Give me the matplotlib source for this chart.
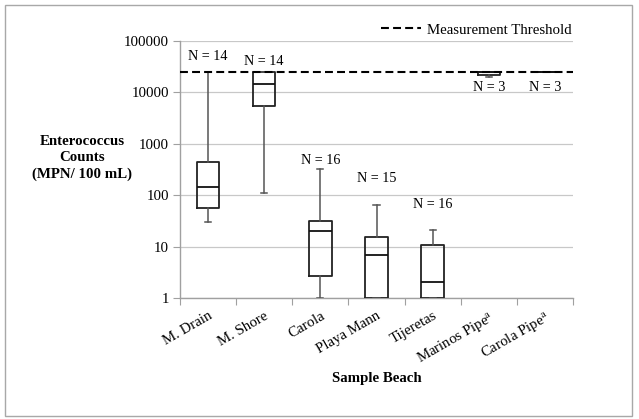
import matplotlib
matplotlib.use("Agg")
import matplotlib.pyplot as plt
from matplotlib.patches import Rectangle
from matplotlib.lines import Line2D
from matplotlib.ticker import FixedLocator, FuncFormatter

plt.rcParams['font.family'] = ['Liberation Serif', 'DejaVu Serif']
plt.rcParams['mathtext.fontset'] = 'stix'

# ---- data ----
categories = ["M. Drain", "M. Shore", "Carola", "Playa Mann", "Tijeretas",
              "Marinos Pipe$^{\\mathrm{a}}$", "Carola Pipe$^{\\mathrm{a}}$"]
whisker_low = [30, 109, 1, 1, 1, 20100, 24196]
q1_vals = [57, 5420, 2.75, 1, 1, 21700, 24196]
medians = [143, 14300, 20.5, 6.8, 2.05, 24196, 24196]
q3_vals = [439, 24196, 31, 15.3, 11, 24196, 24196]
whisker_high = [24196, 24196, 320, 64, 21.2, 24196, 24196]
n_labels = ["N = 14", "N = 14", "N = 16", "N = 15", "N = 16", "N = 3", "N = 3"]
n_label_y = [48400, 38700, 470, 215, 66, 12300, 12300]
threshold = 24196
y_ticks = [1, 10, 100, 1000, 10000, 100000]

W, H = 639, 419
FS = 10.7
fig = plt.figure(figsize=(W / 100, H / 100), dpi=100)
ax = fig.add_axes([180 / W, 1 - 298.3 / H, (573 - 180) / W, (298.3 - 40.7) / H])

stats = []
for i, c in enumerate(categories):
    stats.append(dict(label=c, whislo=whisker_low[i], q1=q1_vals[i], med=medians[i],
                      q3=q3_vals[i], whishi=whisker_high[i], fliers=[]))
positions = list(range(1, len(categories) + 1))
ax.bxp(stats, positions=positions, widths=0.4, showfliers=False, capwidths=0.11,
       boxprops=dict(color='#222222', linewidth=1.3),
       whiskerprops=dict(color='#555555', linewidth=1.1),
       capprops=dict(color='#555555', linewidth=1.1),
       medianprops=dict(color='#111111', linewidth=1.3), zorder=3)

ax.set_yscale('log')
ax.set_ylim(1, 100000)
ax.set_xlim(0.5, len(categories) + 0.5)

dash = (0, (3.8, 2.0))
ax.axhline(threshold, color='black', linestyle=dash, linewidth=1.5, zorder=4)

for i, (lab, yv) in enumerate(zip(n_labels, n_label_y)):
    ax.text(positions[i], yv, lab, ha='center', va='center', fontsize=10.2, zorder=5)

ax.yaxis.set_major_locator(FixedLocator(y_ticks))
ax.yaxis.set_minor_locator(FixedLocator([]))
ax.yaxis.set_major_formatter(FuncFormatter(lambda v, p: f"{int(round(v))}"))
ax.grid(axis='y', color='#c8c8c8', linewidth=0.9, zorder=0)
ax.tick_params(axis='y', length=5, color='#a0a0a0', labelsize=FS, pad=3)

ax.set_xticks([p + 0.5 for p in [0] + positions])
ax.set_xticklabels([])
ax.set_xticks(positions, minor=True)
ax.set_xticklabels(categories, minor=True, rotation=30, ha='right',
                   rotation_mode='anchor', fontsize=FS)
ax.tick_params(axis='x', which='major', length=5, color='#a0a0a0')
ax.tick_params(axis='x', which='minor', length=0, pad=8)

for s in ['top', 'right']:
    ax.spines[s].set_visible(False)
for s in ['left', 'bottom']:
    ax.spines[s].set_color('#a0a0a0')
    ax.spines[s].set_linewidth(1.0)

fig.text(82 / W, 1 - 158 / H, "Enterococcus\nCounts\n(MPN/ 100 mL)", ha='center', va='center',
         fontsize=FS, fontweight='bold', linespacing=1.3)
fig.text(377 / W, 1 - 378 / H, "Sample Beach", ha='center', va='center',
         fontsize=FS, fontweight='bold')

h = Line2D([], [], color='black', linestyle=dash, linewidth=1.5)
fig.legend([h], ["Measurement Threshold"], loc='center right',
           bbox_to_anchor=(578 / W, 1 - 30 / H), frameon=False, fontsize=FS,
           handlelength=2.7, handletextpad=0.4, borderaxespad=0)

fig.patches.append(Rectangle((5 / W, 3 / H), 627 / W, 411 / H, transform=fig.transFigure,
                             fill=False, edgecolor='#a8a8a8', linewidth=1.0))

fig.savefig("out.png", dpi=100)
